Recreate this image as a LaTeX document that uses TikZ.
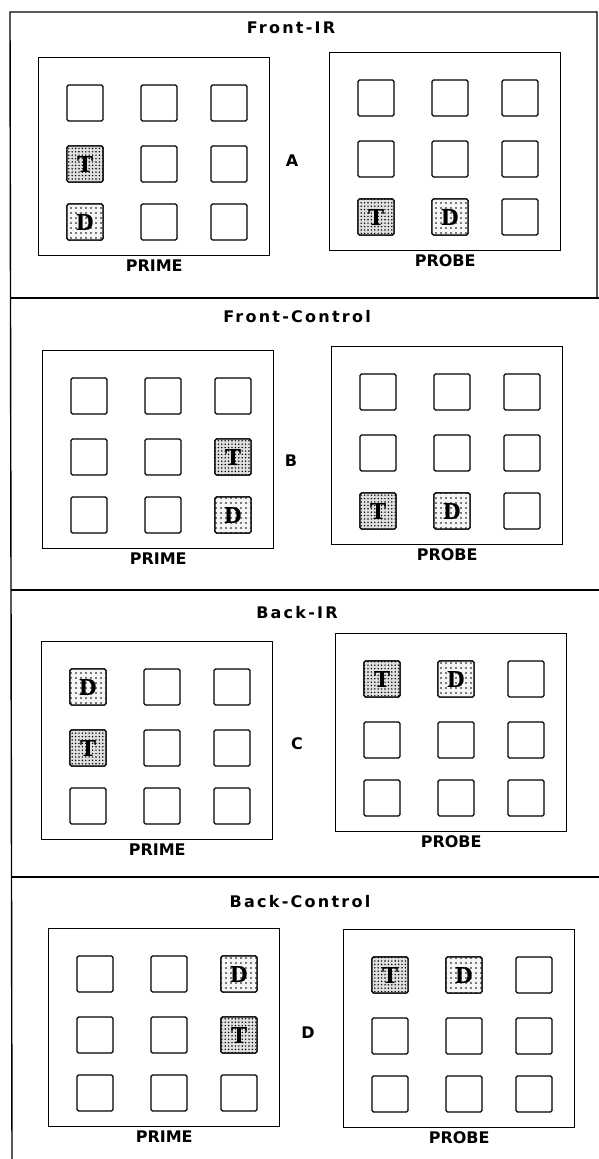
\documentclass[tikz,border=0pt]{standalone}
\usepackage{fontspec}
\usepackage{tikz}
\usetikzlibrary{positioning, calc, patterns}
\newfontfamily\boxfont{DejaVu Sans}
\newfontfamily\headfont{DejaVu Sans}[LetterSpace=14]
\newfontfamily\cellfont{Liberation Serif}[FakeBold=1]
% stipple patterns for target and distractor cells
\pgfdeclarepatternformonly{densedots}{\pgfqpoint{-1pt}{-1pt}}{\pgfqpoint{4pt}{4pt}}{\pgfqpoint{3.4pt}{3.4pt}}{%
  \pgfpathcircle{\pgfqpoint{0.8pt}{0.8pt}}{0.8pt}\pgfusepath{fill}}
\pgfdeclarepatternformonly{sparsedots}{\pgfqpoint{-1pt}{-1pt}}{\pgfqpoint{6pt}{6pt}}{\pgfqpoint{5pt}{5pt}}{%
  \pgfpathcircle{\pgfqpoint{1pt}{1pt}}{0.8pt}\pgfusepath{fill}}
\begin{document}
\begin{tikzpicture}[
  x=1pt, y=-1pt,
  frame/.style={rectangle, draw, line width=1.4pt, minimum width=231pt, minimum height=198pt, inner sep=0pt},
  cell/.style={rectangle, draw, line width=1.3pt, rounded corners=1.5pt, minimum size=36pt, inner sep=0pt},
  tcell/.style={cell, preaction={fill=gray!25}, pattern=densedots, pattern color=black, font=\cellfont\bfseries\fontsize{24}{24}\selectfont},
  dcell/.style={cell, preaction={fill=gray!8}, pattern=sparsedots, pattern color=black, font=\cellfont\bfseries\fontsize{24}{24}\selectfont},
  tag/.style={font=\boxfont\bfseries\fontsize{16}{18}\selectfont, inner sep=1pt},
  head/.style={font=\headfont\bfseries\fontsize{16}{18}\selectfont},
  rule/.style={line width=1.4pt}
]
  \useasboundingbox (0,0) rectangle (599,1159);

  % Outer frame and panel separators
  \coordinate (tl) at (10,12);
  \coordinate (tr) at (597,12);
  \coordinate (bl) at (12,1159);
  \coordinate (s1) at (10,298);
  \coordinate (s1r) at (599,298);
  \coordinate (s2) at (11,590);
  \coordinate (s2r) at (599,590);
  \coordinate (s3) at (11,877);
  \coordinate (s3r) at (599,877);
  \draw[rule] (bl) -- (tl) -- (tr) -- (tr |- s1);
  \draw[rule] (s1) -- (s1r);
  \draw[rule] (s2) -- (s2r);
  \draw[rule] (s3) -- (s3r);

  % Displays: frame with a 3 x 3 grid of empty cells
  \foreach \f/\fx/\fy in {Aprime/38/57, Aprobe/329/52, Bprime/42/350, Bprobe/331/346,
                          Cprime/41/641, Cprobe/335/633, Dprime/48/928, Dprobe/343/929} {
    \node[frame, anchor=north west] (\f) at (\fx,\fy) {};
    \foreach \c/\cx in {1/47,2/121,3/191}
      \foreach \r/\ry in {1/46,2/107,3/165}
        \node[cell] (\f-\r\c) at ($(\f.north west)+(\cx,\ry)$) {};
  }

  % Frame labels
  \foreach \p in {A,B,C,D} {
    \node[tag, below=2pt of \p prime] (\p prime-lbl) {PRIME};
    \node[tag, below=2pt of \p probe] (\p probe-lbl) {PROBE};
  }

  % Titles and condition letters
  \node[head] (A-head) at (291,28) {Front-IR};
  \node[head] (B-head) at (297,317) {Front-Control};
  \node[head] (C-head) at (297,613) {Back-IR};
  \node[head] (D-head) at (300,902) {Back-Control};
  \node[tag] (A-tag) at (292,161) {A};
  \node[tag] (B-tag) at (291,461) {B};
  \node[tag] (C-tag) at (297,744) {C};
  \node[tag] (D-tag) at (308,1033) {D};

  % Target and distractor cells
  \node[tcell] (Aprime-T) at (Aprime-21) {T};
  \node[dcell] (Aprime-D) at (Aprime-31) {D};
  \node[tcell] (Aprobe-T) at (Aprobe-31) {T};
  \node[dcell] (Aprobe-D) at (Aprobe-32) {D};

  \node[tcell] (Bprime-T) at (Bprime-23) {T};
  \node[dcell] (Bprime-D) at (Bprime-33) {D};
  \node[tcell] (Bprobe-T) at (Bprobe-31) {T};
  \node[dcell] (Bprobe-D) at (Bprobe-32) {D};

  \node[dcell] (Cprime-D) at (Cprime-11) {D};
  \node[tcell] (Cprime-T) at (Cprime-21) {T};
  \node[tcell] (Cprobe-T) at (Cprobe-11) {T};
  \node[dcell] (Cprobe-D) at (Cprobe-12) {D};

  \node[dcell] (Dprime-D) at (Dprime-13) {D};
  \node[tcell] (Dprime-T) at (Dprime-23) {T};
  \node[tcell] (Dprobe-T) at (Dprobe-11) {T};
  \node[dcell] (Dprobe-D) at (Dprobe-12) {D};
\end{tikzpicture}
\end{document}
